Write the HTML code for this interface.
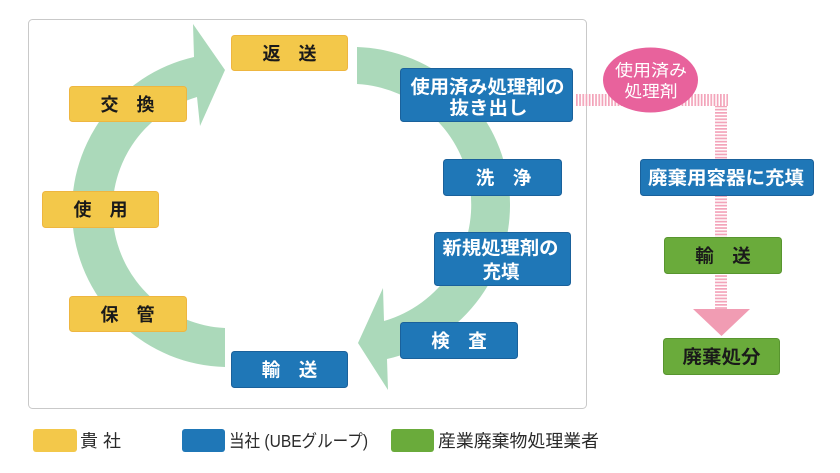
<!DOCTYPE html>
<html>
<head>
<meta charset="utf-8">
<style>
  html,body{margin:0;padding:0;background:#fff;}
  body{width:840px;height:473px;overflow:hidden;}
  svg{display:block;}
  text{font-family:"Liberation Sans","Noto Sans CJK JP",sans-serif;}
  .yt{font-size:18px;font-weight:bold;fill:#1a1a1a;}
  .bt{font-size:18.5px;font-weight:bold;fill:#fff;}
  .gt{font-size:18.5px;font-weight:bold;fill:#1a1a1a;}
  .lt{font-size:17.5px;fill:#2a2a2a;}
</style>
</head>
<body>
<svg width="840" height="473" viewBox="0 0 840 473" xmlns="http://www.w3.org/2000/svg">
  <defs>
    <pattern id="vstripe" x="0" y="0" width="3.2" height="10" patternUnits="userSpaceOnUse">
      <rect x="0" y="0" width="1.7" height="10" fill="#f3a4ba"/>
    </pattern>
    <pattern id="hstripe" x="0" y="0" width="10" height="3.2" patternUnits="userSpaceOnUse">
      <rect x="0" y="0" width="10" height="1.7" fill="#f3a4ba"/>
    </pattern>
  </defs>

  <!-- frame -->
  <rect x="28.5" y="19.5" width="558" height="389" rx="4" ry="4" fill="#fff" stroke="#c9c9c9" stroke-width="1"/>

  <!-- green cycle arrows -->
  <path d="M225,367 A157,157 0 0 1 194,57 L193,24 L225,70 L200,126 L197,97 A118,118 0 0 0 225,328 Z" fill="#abd9ba"/>
  <path d="M357,47 A158,158 0 0 1 387,359 L388,390 L358,343 L383,288 L384,321 A121,121 0 0 0 357,84 Z" fill="#abd9ba"/>

  <!-- pink dashed connectors -->
  <rect x="575" y="94" width="153" height="12" fill="url(#vstripe)"/>
  <rect x="715" y="106" width="12" height="53" fill="url(#hstripe)"/>
  <rect x="715" y="196" width="12" height="41" fill="url(#hstripe)"/>
  <rect x="715" y="274" width="12" height="36" fill="url(#hstripe)"/>
  <polygon points="693,309 750,309 721.5,336" fill="#f19cb3"/>

  <!-- pink ellipse -->
  <ellipse cx="650.5" cy="80" rx="47.5" ry="32.5" fill="#e8629c"/>
  <text x="651" y="71" text-anchor="middle" dominant-baseline="central" style="font-size:16.5px;fill:#fff;" textLength="72" lengthAdjust="spacingAndGlyphs">使用済み</text>
  <text x="651" y="92" text-anchor="middle" dominant-baseline="central" style="font-size:16.5px;fill:#fff;" textLength="53" lengthAdjust="spacingAndGlyphs">処理剤</text>

  <!-- yellow boxes -->
  <g fill="#f3c84a" stroke="#eeb640" stroke-width="1">
    <rect x="231.5" y="35.5" width="116" height="35" rx="3"/>
    <rect x="69.5" y="86.5" width="117" height="35" rx="3"/>
    <rect x="42.5" y="191.5" width="116" height="36" rx="3"/>
    <rect x="69.5" y="296.5" width="117" height="35" rx="3"/>
  </g>
  <text class="yt" x="289.5" y="54" text-anchor="middle" dominant-baseline="central">返　送</text>
  <text class="yt" x="127.5" y="105" text-anchor="middle" dominant-baseline="central">交　換</text>
  <text class="yt" x="100.5" y="210" text-anchor="middle" dominant-baseline="central">使　用</text>
  <text class="yt" x="127.5" y="315" text-anchor="middle" dominant-baseline="central">保　管</text>

  <!-- blue boxes -->
  <g fill="#1f77b7" stroke="#1a619b" stroke-width="1">
    <rect x="231.5" y="351.5" width="116" height="36" rx="3"/>
    <rect x="400.5" y="68.5" width="172" height="53" rx="3"/>
    <rect x="443.5" y="159.5" width="118" height="36" rx="3"/>
    <rect x="434.5" y="232.5" width="136" height="53" rx="3"/>
    <rect x="400.5" y="322.5" width="117" height="36" rx="3"/>
  </g>
  <text class="bt" x="289.5" y="370" text-anchor="middle" dominant-baseline="central">輸　送</text>
  <text class="bt" x="487.5" y="87" text-anchor="middle" dominant-baseline="central" textLength="154" lengthAdjust="spacingAndGlyphs">使用済み処理剤の</text>
  <text class="bt" x="488.5" y="108" text-anchor="middle" dominant-baseline="central" textLength="78" lengthAdjust="spacingAndGlyphs">抜き出し</text>
  <text class="bt" x="503.5" y="178" text-anchor="middle" dominant-baseline="central">洗　浄</text>
  <text class="bt" x="500.5" y="248" text-anchor="middle" dominant-baseline="central" textLength="116" lengthAdjust="spacingAndGlyphs">新規処理剤の</text>
  <text class="bt" x="501" y="272" text-anchor="middle" dominant-baseline="central">充填</text>
  <text class="bt" x="459" y="341" text-anchor="middle" dominant-baseline="central">検　査</text>

  <!-- right column -->
  <rect x="640.5" y="159.5" width="173" height="36" rx="3" fill="#1f77b7" stroke="#1a619b"/>
  <text class="bt" x="726" y="178" text-anchor="middle" dominant-baseline="central" textLength="156" lengthAdjust="spacingAndGlyphs">廃棄用容器に充填</text>

  <g fill="#6aab3b" stroke="#58952f" stroke-width="1">
    <rect x="664.5" y="237.5" width="117" height="36" rx="3"/>
    <rect x="663.5" y="338.5" width="116" height="36" rx="3"/>
  </g>
  <text class="gt" x="723" y="256" text-anchor="middle" dominant-baseline="central">輸　送</text>
  <text class="gt" x="721.5" y="357" text-anchor="middle" dominant-baseline="central" textLength="78" lengthAdjust="spacingAndGlyphs">廃棄処分</text>

  <!-- legend -->
  <rect x="33" y="429" width="44" height="23" rx="3" fill="#f3c84a"/>
  <text class="lt" x="80" y="441" dominant-baseline="central" textLength="41" lengthAdjust="spacingAndGlyphs">貴 社</text>
  <rect x="182" y="429" width="43" height="23" rx="3" fill="#1f77b7"/>
  <text class="lt" x="229" y="441" dominant-baseline="central" textLength="139" lengthAdjust="spacingAndGlyphs">当社 (UBEグループ)</text>
  <rect x="391" y="429" width="43" height="23" rx="3" fill="#6aab3b"/>
  <text class="lt" x="438" y="441" dominant-baseline="central" textLength="161" lengthAdjust="spacingAndGlyphs">産業廃棄物処理業者</text>
</svg>
</body>
</html>
